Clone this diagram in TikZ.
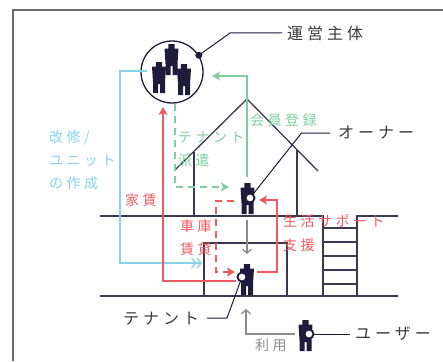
\documentclass[tikz,border=0pt]{standalone}
\usepackage{fontspec}
\usetikzlibrary{arrows.meta}
\newfontfamily\jp[LetterSpace=25]{Noto Sans CJK JP}

\definecolor{ink}{HTML}{1E1B3B}
\definecolor{wallc}{HTML}{3A384F}
\definecolor{framec}{HTML}{6A6A6A}
\definecolor{rolec}{HTML}{3A3A3A}
\definecolor{repair}{HTML}{86D3EB}
\definecolor{member}{HTML}{7ECFA0}
\definecolor{rent}{HTML}{EE5A5F}
\definecolor{usec}{HTML}{8C8C8C}

\tikzset{
  % little standing figure, origin at the top of the head
  person/.pic={
    \fill[ink] (-3.2,0) -- (3.2,0) -- (3.2,4.5) -- (7,4.5) -- (6,20) -- (6,31)
      -- (1,31) -- (1,22) -- (-1,22) -- (-1,31) -- (-6,31) -- (-6,20)
      -- (-7,4.5) -- (-3.2,4.5) -- cycle;
  },
  ring/.style={circle, draw=ink, fill=white, line width=1.9pt, minimum size=9pt, inner sep=0pt},
}

\begin{document}
\begin{tikzpicture}[x=1pt, y=-1pt,
    wall/.style={draw=wallc, line width=1.3pt},
    leader/.style={draw=ink, line width=1pt},
    flow/.style={line width=1.3pt},
    fill tip/.style={-{Stealth[length=8pt, width=9pt, inset=2pt]}},
    barb tip/.style={-{Straight Barb[length=4pt, width=9pt]}},
    flowtext/.style={font=\jp\fontsize{14}{23}\selectfont, align=left, inner sep=0pt, anchor=west},
    role/.style={font=\jp\fontsize{16}{20}\selectfont, text=rolec, inner sep=0pt}]

  % page and frame
  \useasboundingbox (0,0) rectangle (443,361);
  \draw[framec, line width=1.5pt] (13,361) -- (13,10) -- (443,10);

  % house: roof, upper floor, lower unit and ladder
  \draw[wall] (175,170) -- (247,99) -- (318,171);
  \draw[wall] (194,151.5) -- (194,216);
  \draw[wall] (297,150) -- (297,216);
  \draw[wall] (100,216) -- (323,216) -- (323,296);
  \draw[wall] (398,216) -- (357,216) -- (357,296);
  \draw[wall] (323,228) -- (357,228);
  \foreach \y in {242,256,270,284} \draw[wall] (323,\y) -- (357,\y);
  \draw[wall] (204,296) -- (204,243) -- (287,243) -- (287,296);
  \draw[wall] (100,296) -- (398,296);

  % operating body: three figures in a circle
  \node[circle, draw=ink, line width=1.3pt, minimum size=62pt, inner sep=0pt] (org) at (172,72) {};
  \pic at (171.5,44) {person};
  \pic at (159,62) {person};
  \pic at (184,64) {person};

  % people
  \coordinate (own) at (247.5,183);
  \coordinate (ten) at (247,264);
  \coordinate (usr) at (305.5,320);
  \pic at (own) {person};
  \pic at (ten) {person};
  \pic at (usr) {person};

  % flows between them
  \coordinate (cyA) at (147,71);
  \coordinate (cyB) at (202,263);
  \draw[flow, repair, -{Straight Barb[length=4pt, width=10pt] Straight Barb[length=4pt, width=10pt]}]
    (cyA) -- (120,71) |- (cyB);

  \coordinate (rtA) at (236,281);
  \coordinate (rtB) at (163,107);
  \draw[flow, rent, fill tip] (rtA) -| (rtB);

  \coordinate (mbA) at (247,177);
  \coordinate (mbB) at (212,76);
  \draw[flow, member, fill tip] (mbA) |- (mbB);

  \coordinate (dpA) at (175,104);
  \coordinate (dpB) at (229,187);
  \draw[flow, member, dash pattern=on 7pt off 5pt, fill tip] (dpA) |- (dpB);

  \coordinate (gpA) at (234,201);
  \coordinate (gpB) at (235,272);
  \draw[flow, rent, dash pattern=on 7pt off 5pt, fill tip] (gpA) -- (216,201) |- (gpB);

  \coordinate (spA) at (257,272);
  \coordinate (spB) at (259,200);
  \draw[flow, rent, fill tip] (spA) -- (277,272) |- (spB);

  \coordinate (dnA) at (247,220);
  \coordinate (dnB) at (247,254);
  \draw[flow, usec, barb tip] (dnA) -- (dnB);

  \coordinate (usA) at (295,334);
  \coordinate (usB) at (246,309);
  \draw[flow, usec, barb tip] (usA) -| (usB);

  % flow labels
  \node[flowtext, text=repair] (lrep) at (49,160.5) {改修/\\ユニット\\の作成};
  \node[flowtext, text=member] (ldisp) at (178,149.5) {テナント\\派遣};
  \node[flowtext, text=member] (lmem) at (250,120) {会員登録};
  \node[flowtext, text=rent] (lrent) at (125,200) {家賃};
  \node[flowtext, text=rent] (lgar) at (180,238) {車庫\\賃貸};
  \node[flowtext, text=rent, font=\jp\fontsize{14}{24}\selectfont] (lsup) at (283,233) {生活サポート\\支援};
  \node[flowtext, text=usec] (luse) at (255,345) {利用};

  % markers and role names
  \fill[ink] (org.32) circle (3.5pt);
  \node[ring] (mown) at (250,198) {};
  \node[ring] (mten) at (242,277) {};
  \node[ring] (musr) at (309,334) {};

  \node[role, anchor=west] (norg) at (287,33) {運営主体};
  \node[role, anchor=west] (nown) at (338,133) {オーナー};
  \node[role, anchor=west] (nten) at (123,319) {テナント};
  \node[role, anchor=west] (nusr) at (355,334) {ユーザー};

  \draw[leader] (org.32) -- (230,33) -- ([xshift=-5pt]norg.west);
  \draw[leader] (mown) -- (301.5,133) -- ([xshift=-8pt]nown.west);
  \draw[leader] (mten) -- (227,318) -- (207,318);
  \draw[leader] (musr) -- ([xshift=-5pt]nusr.west);
\end{tikzpicture}
\end{document}
